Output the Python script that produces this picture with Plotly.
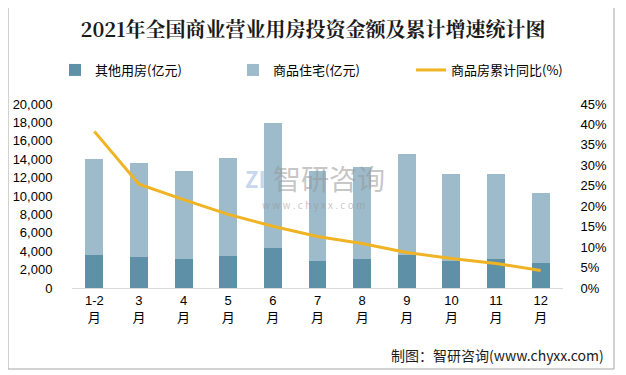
import plotly.graph_objects as go

months = ["1-2<br>月", "3<br>月", "4<br>月", "5<br>月", "6<br>月", "7<br>月",
          "8<br>月", "9<br>月", "10<br>月", "11<br>月", "12<br>月"]
other_use = [3620, 3400, 3150, 3510, 4380, 2940, 3150, 3620, 2940, 3150, 2720]
residential_total = [14020, 13590, 12720, 14130, 17930, 12700, 13150, 14570, 12390, 12390, 10330]
residential = [t - o for t, o in zip(residential_total, other_use)]
growth = [38.3, 25.4, 21.6, 18.0, 15.1, 12.6, 10.9, 8.7, 7.2, 6.0, 4.3]

# page body has an 8px margin; figure is laid out in figure pixels
OFF = 8
W, H = 618, 367
L, R, T, B = 64, 63, 96, 87
pw, ph = W - L - R, H - T - B

def px(sx):  # screen x -> paper x
    return (sx - OFF - L) / pw

def py(sy):  # screen y -> paper y
    return (H - B - (sy - OFF)) / ph

fig = go.Figure()
fig.add_trace(go.Bar(x=months, y=other_use, name="其他用房(亿元)",
                     marker=dict(color="#5E91A8", line=dict(width=0)), width=0.4))
fig.add_trace(go.Bar(x=months, y=residential, name="商品住宅(亿元)",
                     marker=dict(color="#9DBBCA", line=dict(width=0)), width=0.4))
fig.add_trace(go.Scatter(x=months, y=growth, name="商品房累计同比(%)", yaxis="y2",
                         mode="lines", line=dict(color="#F0B323", width=3)))

fig.update_layout(
    width=W, height=H,
    margin=dict(l=L, r=R, t=T, b=B, autoexpand=False),
    barmode="stack",
    plot_bgcolor="white", paper_bgcolor="white",
    font=dict(family="Noto Sans CJK SC, Liberation Sans", size=12, color="#000000"),
    title=dict(text="<b>2021年全国商业营业用房投资金额及累计增速统计图</b>",
               x=(313 - OFF) / W, xref="container", xanchor="center",
               y=1 - (30 - OFF) / H, yref="container", yanchor="middle",
               font=dict(size=20, color="#1a1a1a", family="Noto Serif CJK SC, Noto Sans CJK SC")),
    legend=dict(orientation="h", x=px(55), y=py(70), xanchor="left", yanchor="middle",
                entrywidth=133, entrywidthmode="pixels", font=dict(size=13),
                traceorder="normal", bgcolor="rgba(0,0,0,0)"),
    xaxis=dict(showline=True, linecolor="#D9D9D9", linewidth=1, ticks="",
               tickfont=dict(size=13, family="Liberation Sans, Noto Sans CJK SC"),
               showgrid=False),
    yaxis=dict(range=[0, 20000], dtick=2000, tickformat=",", showgrid=False,
               zeroline=False, showline=False, ticks="outside", ticklen=16,
               tickcolor="rgba(0,0,0,0)", tickfont=dict(size=13, family="Liberation Sans")),
    yaxis2=dict(range=[0, 45], dtick=5, ticksuffix="%", overlaying="y", side="right",
                showgrid=False, zeroline=False, showline=False, ticks="outside",
                ticklen=14, tickcolor="rgba(0,0,0,0)",
                tickfont=dict(size=13, family="Liberation Sans")),
    bargap=0.6,
    shapes=[dict(type="rect", xref="paper", yref="paper",
                 x0=px(8), x1=px(614), y0=py(369), y1=py(7),
                 line=dict(color="#A6A6A6", width=1), fillcolor="rgba(0,0,0,0)",
                 layer="above")],
    annotations=[
        dict(text="制图：智研咨询(www.chyxx.com)", xref="paper", yref="paper",
             x=px(606), y=py(355), xanchor="right", yanchor="middle", showarrow=False,
             font=dict(size=14, color="#1a1a1a")),
        dict(text="智研咨询", xref="paper", yref="paper", x=px(329), y=py(178),
             xanchor="center", yanchor="middle", showarrow=False,
             font=dict(size=28, color="rgba(150,150,150,0.55)")),
        dict(text="w w w . c h y x x . c o m", xref="paper", yref="paper", x=px(313), y=py(204),
             xanchor="center", yanchor="middle", showarrow=False,
             font=dict(size=10, color="rgba(150,150,150,0.55)")),
        dict(text="<b>ZI</b>", xref="paper", yref="paper", x=px(255), y=py(178),
             xanchor="center", yanchor="middle", showarrow=False,
             font=dict(size=22, color="rgba(150,180,220,0.55)")),
    ],
)

fig.write_html("out.html")
